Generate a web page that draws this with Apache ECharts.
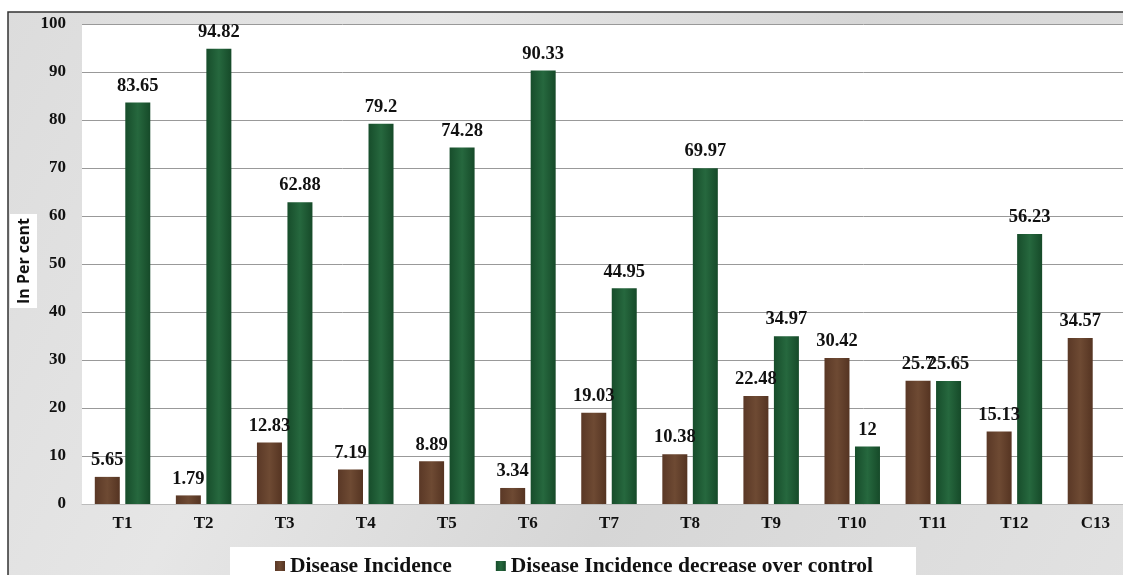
<!DOCTYPE html>
<html><head><meta charset="utf-8">
<script src="https://cdn.jsdelivr.net/npm/echarts@6/dist/echarts.min.js"></script>
<style>html,body{margin:0;padding:0;background:#fff}#c{width:1123px;height:575px}</style>
</head><body><div id="c"></div>
<script>
const categories = ['T1','T2','T3','T4','T5','T6','T7','T8','T9','T10','T11','T12','C13'];
const diseaseIncidence = [5.65, 1.79, 12.83, 7.19, 8.89, 3.34, 19.03, 10.38, 22.48, 30.42, 25.7, 15.13, 34.57];
const decreaseOverControl = [83.65, 94.82, 62.88, 79.2, 74.28, 90.33, 44.95, 69.97, 34.97, 12, 25.65, 56.23, '-'];
const yTicks = [0,10,20,30,40,50,60,70,80,90,100];
const yAxisTitle = 'In Per cent';

const serif = '"Liberation Serif", "DejaVu Serif", serif';
const chart = echarts.init(document.getElementById('c'), null, {renderer:'canvas'});
const brown = new echarts.graphic.LinearGradient(0,0,1,0,[{offset:0,color:'#5a3826'},{offset:0.5,color:'#6e4a33'},{offset:1,color:'#553422'}]);
const green = new echarts.graphic.LinearGradient(0,0,1,0,[{offset:0,color:'#174d2b'},{offset:0.5,color:'#26683e'},{offset:1,color:'#164a29'}]);
const labelStyle = {show:true, position:'top', distance:7, fontFamily:serif, fontWeight:'bold', fontSize:18.5, color:'#111'};
chart.setOption({
  backgroundColor:'#fff',
  animation:false,
  graphic:[
    {type:'rect', z:-10, shape:{x:8,y:12,width:1130,height:580},
     style:{fill:new echarts.graphic.LinearGradient(0,0,1,1,[{offset:0,color:'#dcdcdc'},{offset:0.3,color:'#e6e6e6'},{offset:0.6,color:'#d6d6d6'},{offset:1,color:'#e2e2e2'}]), stroke:'#333', lineWidth:1.5}},
    {type:'rect', z:-5, shape:{x:230,y:547,width:686,height:40}, style:{fill:'#fff'}},
    {type:'rect', z:5, shape:{x:10,y:214,width:27,height:94}, style:{fill:'#fff'}},
    {type:'text', z:6, x:24, y:261, rotation:Math.PI/2,
     style:{text:yAxisTitle, align:'center', verticalAlign:'middle', fill:'#111',
       font:'bold 16px "Open Sans", "Liberation Sans", sans-serif'}}
  ],
  grid:{left:82, right:-13, top:24, bottom:71, show:true, backgroundColor:'#fff', borderWidth:0, containLabel:false, outerBoundsMode:'none'},
  legend:{
    data:['Disease Incidence','Disease Incidence decrease over control'],
    left:270, top:550, itemWidth:10, itemHeight:10, itemGap:44,
    icon:'rect',
    textStyle:{fontFamily:serif, fontWeight:'bold', fontSize:21.5, color:'#111'}
  },
  xAxis:{
    type:'category', data:categories,
    axisTick:{show:false},
    axisLine:{show:true, lineStyle:{color:'#bbb'}},
    axisLabel:{fontFamily:serif, fontWeight:'bold', fontSize:17, color:'#111', margin:11}
  },
  yAxis:{
    type:'value', min:0, max:100, interval:10,
    axisLine:{show:false}, axisTick:{show:false},
    axisLabel:{fontFamily:serif, fontWeight:'bold', fontSize:17, color:'#111', margin:16,
      formatter:(v)=> yTicks.includes(v) ? String(v) : ''},
    splitLine:{lineStyle:{color:'#999', width:1}}
  },
  series:[
    {name:'Disease Incidence', type:'bar', data:diseaseIncidence, barWidth:25, barGap:'22%',
     itemStyle:{color:brown}, label:labelStyle},
    {name:'Disease Incidence decrease over control', type:'bar', data:decreaseOverControl, barWidth:25,
     itemStyle:{color:green}, label:labelStyle}
  ]
});
</script></body></html>
